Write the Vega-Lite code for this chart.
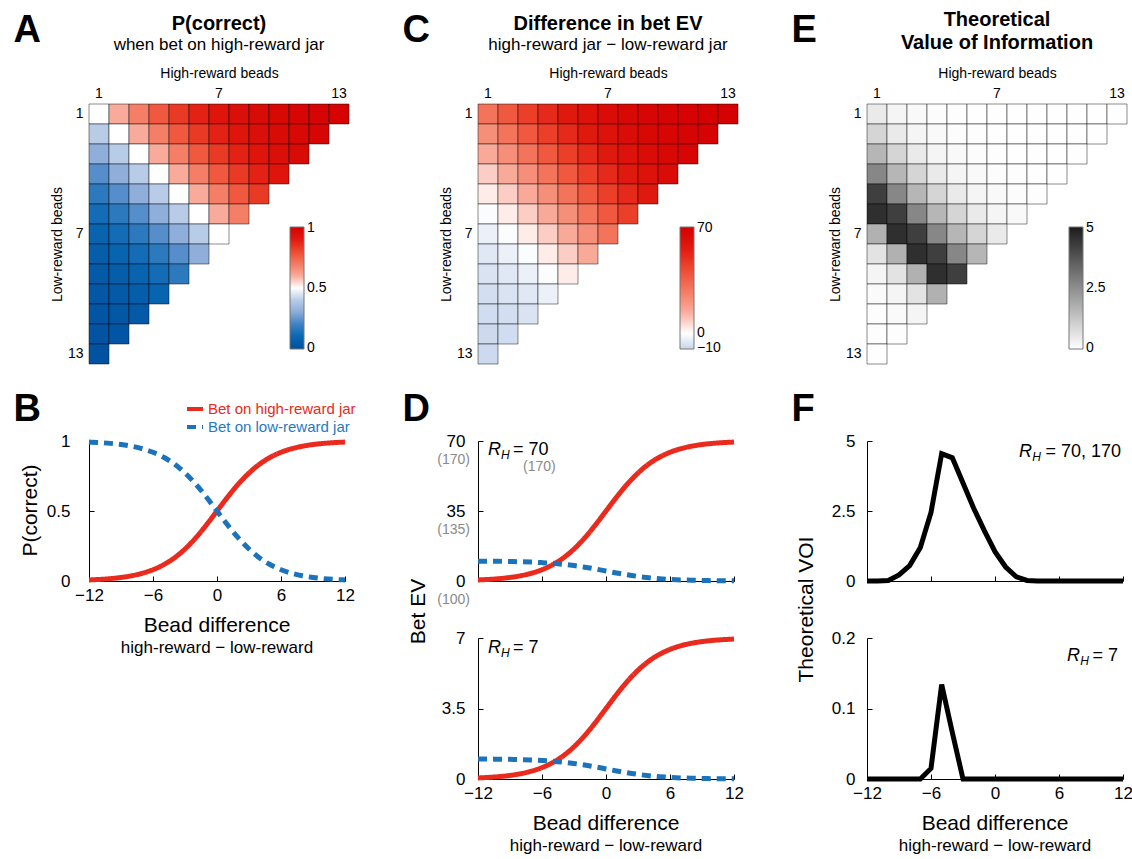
{
"$schema": "https://vega.github.io/schema/vega-lite/v6.json",
"padding": {"left": 13, "top": 10, "right": 0, "bottom": 0},
"config": {
  "font": "Liberation Sans",
  "view": {"stroke": null},
  "axis": {"labelFont": "Liberation Sans", "titleFont": "Liberation Sans", "titleFontWeight": "normal", "labelColor": "#000", "titleColor": "#000", "domainColor": "#000", "tickColor": "#000", "grid": false},
  "legend": {"labelFont": "Liberation Sans", "labelColor": "#000"},
  "title": {"font": "Liberation Sans", "subtitleFont": "Liberation Sans", "color": "#000", "subtitleColor": "#000"},
  "text": {"font": "Liberation Sans"}
},
"datasets": {
  "cells": [
    {"h":1,"l":1,"p":0.5,"e":30,"v":0.45},{"h":2,"l":1,"p":0.6,"e":38,"v":0.2},{"h":3,"l":1,"p":0.6923,"e":45.38,"v":0.1},{"h":4,"l":1,"p":0.7714,"e":51.71,"v":0.05},{"h":5,"l":1,"p":0.8351,"e":56.81,"v":0.02},{"h":6,"l":1,"p":0.8836,"e":60.69,"v":0},{"h":7,"l":1,"p":0.9193,"e":63.54,"v":0},{"h":8,"l":1,"p":0.9447,"e":65.58,"v":0},{"h":9,"l":1,"p":0.9624,"e":66.99,"v":0},{"h":10,"l":1,"p":0.9747,"e":67.98,"v":0},{"h":11,"l":1,"p":0.983,"e":68.64,"v":0},{"h":12,"l":1,"p":0.9886,"e":69.09,"v":0},{"h":13,"l":1,"p":0.9924,"e":69.39,"v":0},
    {"h":1,"l":2,"p":0.4,"e":22,"v":0.9},{"h":2,"l":2,"p":0.5,"e":30,"v":0.45},{"h":3,"l":2,"p":0.6,"e":38,"v":0.2},{"h":4,"l":2,"p":0.6923,"e":45.38,"v":0.1},{"h":5,"l":2,"p":0.7714,"e":51.71,"v":0.05},{"h":6,"l":2,"p":0.8351,"e":56.81,"v":0.02},{"h":7,"l":2,"p":0.8836,"e":60.69,"v":0},{"h":8,"l":2,"p":0.9193,"e":63.54,"v":0},{"h":9,"l":2,"p":0.9447,"e":65.58,"v":0},{"h":10,"l":2,"p":0.9624,"e":66.99,"v":0},{"h":11,"l":2,"p":0.9747,"e":67.98,"v":0},{"h":12,"l":2,"p":0.983,"e":68.64,"v":0},
    {"h":1,"l":3,"p":0.3077,"e":14.62,"v":1.6},{"h":2,"l":3,"p":0.4,"e":22,"v":0.9},{"h":3,"l":3,"p":0.5,"e":30,"v":0.45},{"h":4,"l":3,"p":0.6,"e":38,"v":0.2},{"h":5,"l":3,"p":0.6923,"e":45.38,"v":0.1},{"h":6,"l":3,"p":0.7714,"e":51.71,"v":0.05},{"h":7,"l":3,"p":0.8351,"e":56.81,"v":0.02},{"h":8,"l":3,"p":0.8836,"e":60.69,"v":0},{"h":9,"l":3,"p":0.9193,"e":63.54,"v":0},{"h":10,"l":3,"p":0.9447,"e":65.58,"v":0},{"h":11,"l":3,"p":0.9624,"e":66.99,"v":0},
    {"h":1,"l":4,"p":0.2286,"e":8.29,"v":2.65},{"h":2,"l":4,"p":0.3077,"e":14.62,"v":1.6},{"h":3,"l":4,"p":0.4,"e":22,"v":0.9},{"h":4,"l":4,"p":0.5,"e":30,"v":0.45},{"h":5,"l":4,"p":0.6,"e":38,"v":0.2},{"h":6,"l":4,"p":0.6923,"e":45.38,"v":0.1},{"h":7,"l":4,"p":0.7714,"e":51.71,"v":0.05},{"h":8,"l":4,"p":0.8351,"e":56.81,"v":0.02},{"h":9,"l":4,"p":0.8836,"e":60.69,"v":0},{"h":10,"l":4,"p":0.9193,"e":63.54,"v":0},
    {"h":1,"l":5,"p":0.1649,"e":3.19,"v":4.25},{"h":2,"l":5,"p":0.2286,"e":8.29,"v":2.65},{"h":3,"l":5,"p":0.3077,"e":14.62,"v":1.6},{"h":4,"l":5,"p":0.4,"e":22,"v":0.9},{"h":5,"l":5,"p":0.5,"e":30,"v":0.45},{"h":6,"l":5,"p":0.6,"e":38,"v":0.2},{"h":7,"l":5,"p":0.6923,"e":45.38,"v":0.1},{"h":8,"l":5,"p":0.7714,"e":51.71,"v":0.05},{"h":9,"l":5,"p":0.8351,"e":56.81,"v":0.02},
    {"h":1,"l":6,"p":0.1164,"e":-0.69,"v":4.6},{"h":2,"l":6,"p":0.1649,"e":3.19,"v":4.25},{"h":3,"l":6,"p":0.2286,"e":8.29,"v":2.65},{"h":4,"l":6,"p":0.3077,"e":14.62,"v":1.6},{"h":5,"l":6,"p":0.4,"e":22,"v":0.9},{"h":6,"l":6,"p":0.5,"e":30,"v":0.45},{"h":7,"l":6,"p":0.6,"e":38,"v":0.2},{"h":8,"l":6,"p":0.6923,"e":45.38,"v":0.1},
    {"h":1,"l":7,"p":0.0807,"e":-3.54,"v":1.7},{"h":2,"l":7,"p":0.1164,"e":-0.69,"v":4.6},{"h":3,"l":7,"p":0.1649,"e":3.19,"v":4.25},{"h":4,"l":7,"p":0.2286,"e":8.29,"v":2.65},{"h":5,"l":7,"p":0.3077,"e":14.62,"v":1.6},{"h":6,"l":7,"p":0.4,"e":22,"v":0.9},{"h":7,"l":7,"p":0.5,"e":30,"v":0.45},
    {"h":1,"l":8,"p":0.0553,"e":-5.58,"v":0.6},{"h":2,"l":8,"p":0.0807,"e":-3.54,"v":1.7},{"h":3,"l":8,"p":0.1164,"e":-0.69,"v":4.6},{"h":4,"l":8,"p":0.1649,"e":3.19,"v":4.25},{"h":5,"l":8,"p":0.2286,"e":8.29,"v":2.65},{"h":6,"l":8,"p":0.3077,"e":14.62,"v":1.6},
    {"h":1,"l":9,"p":0.0376,"e":-6.99,"v":0.2},{"h":2,"l":9,"p":0.0553,"e":-5.58,"v":0.6},{"h":3,"l":9,"p":0.0807,"e":-3.54,"v":1.7},{"h":4,"l":9,"p":0.1164,"e":-0.69,"v":4.6},{"h":5,"l":9,"p":0.1649,"e":3.19,"v":4.25},
    {"h":1,"l":10,"p":0.0253,"e":-7.98,"v":0.08},{"h":2,"l":10,"p":0.0376,"e":-6.99,"v":0.2},{"h":3,"l":10,"p":0.0553,"e":-5.58,"v":0.6},{"h":4,"l":10,"p":0.0807,"e":-3.54,"v":1.7},
    {"h":1,"l":11,"p":0.017,"e":-8.64,"v":0.03},{"h":2,"l":11,"p":0.0253,"e":-7.98,"v":0.08},{"h":3,"l":11,"p":0.0376,"e":-6.99,"v":0.2},
    {"h":1,"l":12,"p":0.0114,"e":-9.09,"v":0.01},{"h":2,"l":12,"p":0.017,"e":-8.64,"v":0.03},
    {"h":1,"l":13,"p":0.0076,"e":-9.39,"v":0}
  ],
  "pc": [
    {"d":-12,"s":"Bet on high-reward jar","v":0.0076},{"d":-11,"s":"Bet on high-reward jar","v":0.0114},{"d":-10,"s":"Bet on high-reward jar","v":0.017},{"d":-9,"s":"Bet on high-reward jar","v":0.0253},{"d":-8,"s":"Bet on high-reward jar","v":0.0376},{"d":-7,"s":"Bet on high-reward jar","v":0.0553},{"d":-6,"s":"Bet on high-reward jar","v":0.0807},{"d":-5,"s":"Bet on high-reward jar","v":0.1164},{"d":-4,"s":"Bet on high-reward jar","v":0.1649},{"d":-3,"s":"Bet on high-reward jar","v":0.2286},{"d":-2,"s":"Bet on high-reward jar","v":0.3077},{"d":-1,"s":"Bet on high-reward jar","v":0.4},{"d":0,"s":"Bet on high-reward jar","v":0.5},{"d":1,"s":"Bet on high-reward jar","v":0.6},{"d":2,"s":"Bet on high-reward jar","v":0.6923},{"d":3,"s":"Bet on high-reward jar","v":0.7714},{"d":4,"s":"Bet on high-reward jar","v":0.8351},{"d":5,"s":"Bet on high-reward jar","v":0.8836},{"d":6,"s":"Bet on high-reward jar","v":0.9193},{"d":7,"s":"Bet on high-reward jar","v":0.9447},{"d":8,"s":"Bet on high-reward jar","v":0.9624},{"d":9,"s":"Bet on high-reward jar","v":0.9747},{"d":10,"s":"Bet on high-reward jar","v":0.983},{"d":11,"s":"Bet on high-reward jar","v":0.9886},{"d":12,"s":"Bet on high-reward jar","v":0.9924},
    {"d":-12,"s":"Bet on low-reward jar","v":0.9924},{"d":-11,"s":"Bet on low-reward jar","v":0.9886},{"d":-10,"s":"Bet on low-reward jar","v":0.983},{"d":-9,"s":"Bet on low-reward jar","v":0.9747},{"d":-8,"s":"Bet on low-reward jar","v":0.9624},{"d":-7,"s":"Bet on low-reward jar","v":0.9447},{"d":-6,"s":"Bet on low-reward jar","v":0.9193},{"d":-5,"s":"Bet on low-reward jar","v":0.8836},{"d":-4,"s":"Bet on low-reward jar","v":0.8351},{"d":-3,"s":"Bet on low-reward jar","v":0.7714},{"d":-2,"s":"Bet on low-reward jar","v":0.6923},{"d":-1,"s":"Bet on low-reward jar","v":0.6},{"d":0,"s":"Bet on low-reward jar","v":0.5},{"d":1,"s":"Bet on low-reward jar","v":0.4},{"d":2,"s":"Bet on low-reward jar","v":0.3077},{"d":3,"s":"Bet on low-reward jar","v":0.2286},{"d":4,"s":"Bet on low-reward jar","v":0.1649},{"d":5,"s":"Bet on low-reward jar","v":0.1164},{"d":6,"s":"Bet on low-reward jar","v":0.0807},{"d":7,"s":"Bet on low-reward jar","v":0.0553},{"d":8,"s":"Bet on low-reward jar","v":0.0376},{"d":9,"s":"Bet on low-reward jar","v":0.0253},{"d":10,"s":"Bet on low-reward jar","v":0.017},{"d":11,"s":"Bet on low-reward jar","v":0.0114},{"d":12,"s":"Bet on low-reward jar","v":0.0076}
  ],
  "ev70": [
    {"d":-12,"s":"hi","v":0.53},{"d":-11,"s":"hi","v":0.8},{"d":-10,"s":"hi","v":1.19},{"d":-9,"s":"hi","v":1.77},{"d":-8,"s":"hi","v":2.63},{"d":-7,"s":"hi","v":3.87},{"d":-6,"s":"hi","v":5.65},{"d":-5,"s":"hi","v":8.15},{"d":-4,"s":"hi","v":11.54},{"d":-3,"s":"hi","v":16.0},{"d":-2,"s":"hi","v":21.54},{"d":-1,"s":"hi","v":28.0},{"d":0,"s":"hi","v":35.0},{"d":1,"s":"hi","v":42.0},{"d":2,"s":"hi","v":48.46},{"d":3,"s":"hi","v":54.0},{"d":4,"s":"hi","v":58.46},{"d":5,"s":"hi","v":61.85},{"d":6,"s":"hi","v":64.35},{"d":7,"s":"hi","v":66.13},{"d":8,"s":"hi","v":67.37},{"d":9,"s":"hi","v":68.23},{"d":10,"s":"hi","v":68.81},{"d":11,"s":"hi","v":69.2},{"d":12,"s":"hi","v":69.47},
    {"d":-12,"s":"lo","v":9.92},{"d":-11,"s":"lo","v":9.89},{"d":-10,"s":"lo","v":9.83},{"d":-9,"s":"lo","v":9.75},{"d":-8,"s":"lo","v":9.62},{"d":-7,"s":"lo","v":9.45},{"d":-6,"s":"lo","v":9.19},{"d":-5,"s":"lo","v":8.84},{"d":-4,"s":"lo","v":8.35},{"d":-3,"s":"lo","v":7.71},{"d":-2,"s":"lo","v":6.92},{"d":-1,"s":"lo","v":6.0},{"d":0,"s":"lo","v":5.0},{"d":1,"s":"lo","v":4.0},{"d":2,"s":"lo","v":3.08},{"d":3,"s":"lo","v":2.29},{"d":4,"s":"lo","v":1.65},{"d":5,"s":"lo","v":1.16},{"d":6,"s":"lo","v":0.81},{"d":7,"s":"lo","v":0.55},{"d":8,"s":"lo","v":0.38},{"d":9,"s":"lo","v":0.25},{"d":10,"s":"lo","v":0.17},{"d":11,"s":"lo","v":0.11},{"d":12,"s":"lo","v":0.08}
  ],
  "ev7": [
    {"d":-12,"s":"hi","v":0.053},{"d":-11,"s":"hi","v":0.08},{"d":-10,"s":"hi","v":0.119},{"d":-9,"s":"hi","v":0.177},{"d":-8,"s":"hi","v":0.263},{"d":-7,"s":"hi","v":0.387},{"d":-6,"s":"hi","v":0.565},{"d":-5,"s":"hi","v":0.815},{"d":-4,"s":"hi","v":1.154},{"d":-3,"s":"hi","v":1.6},{"d":-2,"s":"hi","v":2.154},{"d":-1,"s":"hi","v":2.8},{"d":0,"s":"hi","v":3.5},{"d":1,"s":"hi","v":4.2},{"d":2,"s":"hi","v":4.846},{"d":3,"s":"hi","v":5.4},{"d":4,"s":"hi","v":5.846},{"d":5,"s":"hi","v":6.185},{"d":6,"s":"hi","v":6.435},{"d":7,"s":"hi","v":6.613},{"d":8,"s":"hi","v":6.737},{"d":9,"s":"hi","v":6.823},{"d":10,"s":"hi","v":6.881},{"d":11,"s":"hi","v":6.92},{"d":12,"s":"hi","v":6.947},
    {"d":-12,"s":"lo","v":0.992},{"d":-11,"s":"lo","v":0.989},{"d":-10,"s":"lo","v":0.983},{"d":-9,"s":"lo","v":0.975},{"d":-8,"s":"lo","v":0.962},{"d":-7,"s":"lo","v":0.945},{"d":-6,"s":"lo","v":0.919},{"d":-5,"s":"lo","v":0.884},{"d":-4,"s":"lo","v":0.835},{"d":-3,"s":"lo","v":0.771},{"d":-2,"s":"lo","v":0.692},{"d":-1,"s":"lo","v":0.6},{"d":0,"s":"lo","v":0.5},{"d":1,"s":"lo","v":0.4},{"d":2,"s":"lo","v":0.308},{"d":3,"s":"lo","v":0.229},{"d":4,"s":"lo","v":0.165},{"d":5,"s":"lo","v":0.116},{"d":6,"s":"lo","v":0.081},{"d":7,"s":"lo","v":0.055},{"d":8,"s":"lo","v":0.038},{"d":9,"s":"lo","v":0.025},{"d":10,"s":"lo","v":0.017},{"d":11,"s":"lo","v":0.011},{"d":12,"s":"lo","v":0.008}
  ],
  "voi70": [
    {"d":-12,"v":0},{"d":-11,"v":0},{"d":-10,"v":0.02},{"d":-9,"v":0.22},{"d":-8,"v":0.55},{"d":-7,"v":1.2},{"d":-6,"v":2.45},{"d":-5,"v":4.55},{"d":-4,"v":4.4},{"d":-3,"v":3.5},{"d":-2,"v":2.6},{"d":-1,"v":1.8},{"d":0,"v":1.05},{"d":1,"v":0.5},{"d":2,"v":0.15},{"d":3,"v":0.02},{"d":4,"v":0},{"d":5,"v":0},{"d":6,"v":0},{"d":7,"v":0},{"d":8,"v":0},{"d":9,"v":0},{"d":10,"v":0},{"d":11,"v":0},{"d":12,"v":0}
  ],
  "voi7": [
    {"d":-12,"v":0},{"d":-11,"v":0},{"d":-10,"v":0},{"d":-9,"v":0},{"d":-8,"v":0},{"d":-7,"v":0},{"d":-6,"v":0.015},{"d":-5,"v":0.134},{"d":-4,"v":0.066},{"d":-3,"v":0},{"d":-2,"v":0},{"d":-1,"v":0},{"d":0,"v":0},{"d":1,"v":0},{"d":2,"v":0},{"d":3,"v":0},{"d":4,"v":0},{"d":5,"v":0},{"d":6,"v":0},{"d":7,"v":0},{"d":8,"v":0},{"d":9,"v":0},{"d":10,"v":0},{"d":11,"v":0},{"d":12,"v":0}
  ]
},
"columns": 3,
"bounds": "flush",
"align": "each",
"spacing": {"row": 57, "column": 129},
"resolve": {"scale": {"color": "independent", "strokeDash": "independent"}, "legend": {"color": "independent", "strokeDash": "independent"}},
"concat": [
  {
    "width": 260, "height": 280,
    "title": {"text": "P(correct)", "subtitle": "when bet on high-reward jar", "fontSize": 20, "fontWeight": "bold", "subtitleFontSize": 17, "subtitlePadding": 3, "offset": -42, "anchor": "middle", "frame": "group"},
    "data": {"name": "cells"},
    "layer": [
      {"mark": {"type": "rect", "stroke": "#000", "strokeOpacity": 0.45, "strokeWidth": 1},
       "encoding": {
         "x": {"field": "h", "type": "ordinal", "scale": {"domain": [1,2,3,4,5,6,7,8,9,10,11,12,13], "paddingInner": 0, "paddingOuter": 0}, "axis": {"orient": "top", "values": [1,7,13], "labelAngle": 0, "ticks": false, "domain": false, "labelPadding": 4, "labelFontSize": 14, "title": "High-reward beads", "titleFontSize": 14, "titlePadding": 6}},
         "y": {"field": "l", "type": "ordinal", "scale": {"domain": [1,2,3,4,5,6,7,8,9,10,11,12,13,14], "paddingInner": 0, "paddingOuter": 0}, "axis": {"orient": "left", "values": [1,7,13], "ticks": false, "domain": false, "labelPadding": 6, "labelFontSize": 14, "title": "Low-reward beads", "titleFontSize": 14, "titlePadding": 3}},
         "color": {"field": "p", "type": "quantitative",
           "scale": {"domain": [-0.005,0.1,0.2,0.3,0.4,0.5,0.6,0.7,0.8,0.9,1.005], "range": ["#0050a0","#0a68b2","#3f82c4","#8cabd8","#b8cce8","#ffffff","#f9ab9b","#f47a62","#ee4b33","#e11a0f","#d40000"], "interpolate": "rgb"},
           "legend": {"orient": "none", "legendX": 201, "legendY": 123, "direction": "vertical", "title": null, "values": [0,0.5,1], "format": ".1~f", "gradientLength": 122, "gradientThickness": 14, "gradientStrokeColor": "#777", "gradientStrokeWidth": 1, "labelFontSize": 14, "labelOverlap": false, "labelOffset": 3, "labelBaseline": "middle"}}
       }},
      {"mark": {"type": "text", "text": ""},
       "encoding": {"y": {"field": "l", "type": "ordinal", "scale": {"domain": [1,2,3,4,5,6,7,8,9,10,11,12,13,14]}, "axis": {"orient": "right", "labels": false, "ticks": false, "domain": false, "title": "A", "titleAngle": 0, "titleX": -336, "titleY": -63, "titleAlign": "left", "titleBaseline": "alphabetic", "titleFontSize": 38, "titleFontWeight": "bold"}}}}
    ],
    "resolve": {"axis": {"y": "independent"}}
  },
  {
    "width": 260, "height": 280,
    "title": {"text": "Difference in bet EV", "subtitle": "high-reward jar − low-reward jar", "fontSize": 20, "fontWeight": "bold", "subtitleFontSize": 17, "subtitlePadding": 3, "offset": -42, "anchor": "middle", "frame": "group"},
    "data": {"name": "cells"},
    "layer": [
      {"mark": {"type": "rect", "stroke": "#000", "strokeOpacity": 0.45, "strokeWidth": 1},
       "encoding": {
         "x": {"field": "h", "type": "ordinal", "scale": {"domain": [1,2,3,4,5,6,7,8,9,10,11,12,13], "paddingInner": 0, "paddingOuter": 0}, "axis": {"orient": "top", "values": [1,7,13], "labelAngle": 0, "ticks": false, "domain": false, "labelPadding": 4, "labelFontSize": 14, "title": "High-reward beads", "titleFontSize": 14, "titlePadding": 6}},
         "y": {"field": "l", "type": "ordinal", "scale": {"domain": [1,2,3,4,5,6,7,8,9,10,11,12,13,14], "paddingInner": 0, "paddingOuter": 0}, "axis": {"orient": "left", "values": [1,7,13], "ticks": false, "domain": false, "labelPadding": 6, "labelFontSize": 14, "title": "Low-reward beads", "titleFontSize": 14, "titlePadding": 3}},
         "color": {"field": "e", "type": "quantitative",
           "scale": {"domain": [-10.4,0,14,28,42,56,70.4], "range": ["#c6d5ec","#ffffff","#f9ab9b","#f47a62","#ee4b33","#e11a0f","#d40000"], "interpolate": "rgb"},
           "legend": {"orient": "none", "legendX": 202, "legendY": 123, "direction": "vertical", "title": null, "values": [-10,0,70], "format": ".1~f", "gradientLength": 122, "gradientThickness": 14, "gradientStrokeColor": "#777", "gradientStrokeWidth": 1, "labelFontSize": 14, "labelOverlap": false, "labelOffset": 3, "labelBaseline": "middle"}}
       }},
      {"mark": {"type": "text", "text": ""},
       "encoding": {"y": {"field": "l", "type": "ordinal", "scale": {"domain": [1,2,3,4,5,6,7,8,9,10,11,12,13,14]}, "axis": {"orient": "right", "labels": false, "ticks": false, "domain": false, "title": "C", "titleAngle": 0, "titleX": -336, "titleY": -63, "titleAlign": "left", "titleBaseline": "alphabetic", "titleFontSize": 38, "titleFontWeight": "bold"}}}}
    ],
    "resolve": {"axis": {"y": "independent"}}
  },
  {
    "width": 260, "height": 280,
    "title": {"text": ["Theoretical", "Value of Information"], "lineHeight": 23, "fontSize": 20, "fontWeight": "bold", "offset": -42, "anchor": "middle", "frame": "group"},
    "data": {"name": "cells"},
    "layer": [
      {"mark": {"type": "rect", "stroke": "#000", "strokeOpacity": 0.45, "strokeWidth": 1},
       "encoding": {
         "x": {"field": "h", "type": "ordinal", "scale": {"domain": [1,2,3,4,5,6,7,8,9,10,11,12,13], "paddingInner": 0, "paddingOuter": 0}, "axis": {"orient": "top", "values": [1,7,13], "labelAngle": 0, "ticks": false, "domain": false, "labelPadding": 4, "labelFontSize": 14, "title": "High-reward beads", "titleFontSize": 14, "titlePadding": 6}},
         "y": {"field": "l", "type": "ordinal", "scale": {"domain": [1,2,3,4,5,6,7,8,9,10,11,12,13,14], "paddingInner": 0, "paddingOuter": 0}, "axis": {"orient": "left", "values": [1,7,13], "ticks": false, "domain": false, "labelPadding": 6, "labelFontSize": 14, "title": "Low-reward beads", "titleFontSize": 14, "titlePadding": 3}},
         "color": {"field": "v", "type": "quantitative",
           "scale": {"domain": [-0.025,5.025], "range": ["#ffffff","#1c1c1c"], "interpolate": "rgb"},
           "legend": {"orient": "none", "legendX": 202, "legendY": 123, "direction": "vertical", "title": null, "values": [0,2.5,5], "format": ".1~f", "gradientLength": 122, "gradientThickness": 14, "gradientStrokeColor": "#777", "gradientStrokeWidth": 1, "labelFontSize": 14, "labelOverlap": false, "labelOffset": 3, "labelBaseline": "middle"}}
       }},
      {"mark": {"type": "text", "text": ""},
       "encoding": {"y": {"field": "l", "type": "ordinal", "scale": {"domain": [1,2,3,4,5,6,7,8,9,10,11,12,13,14]}, "axis": {"orient": "right", "labels": false, "ticks": false, "domain": false, "title": "E", "titleAngle": 0, "titleX": -336, "titleY": -63, "titleAlign": "left", "titleBaseline": "alphabetic", "titleFontSize": 38, "titleFontWeight": "bold"}}}}
    ],
    "resolve": {"axis": {"y": "independent"}}
  },
  {
    "width": 256, "height": 140,
    "title": {"text": "Bead difference", "subtitle": "high-reward − low-reward", "orient": "bottom", "anchor": "middle", "frame": "group", "fontSize": 21, "fontWeight": "normal", "subtitleFontSize": 17, "subtitlePadding": 4, "offset": 12},
    "layer": [
      {"data": {"name": "pc"},
       "mark": {"type": "line", "strokeWidth": 5, "interpolate": "monotone", "strokeCap": "butt"},
       "encoding": {
         "x": {"field": "d", "type": "quantitative", "scale": {"domain": [-12,12], "nice": false}, "axis": {"values": [-12,-6,0,6,12], "format": ".1~f", "tickSize": -5, "labelPadding": 11, "labelFontSize": 17, "labelFlush": false, "title": null}},
         "y": {"field": "v", "type": "quantitative", "scale": {"domain": [0,1], "nice": false}, "axis": {"values": [0,0.5,1], "format": ".1~f", "tickSize": -5, "labelPadding": 24, "labelFontSize": 17, "labelFlush": false, "title": "P(correct)", "titleFontSize": 21, "titleX": -49, "titleY": 69, "titleAngle": -90, "titleAlign": "center", "titleBaseline": "bottom"}},
         "color": {"field": "s", "type": "nominal", "scale": {"domain": ["Bet on high-reward jar","Bet on low-reward jar"], "range": ["#ea2a1d","#1b74bb"]},
           "legend": {"orient": "none", "legendX": 96, "legendY": -42, "title": null, "symbolType": "stroke", "symbolSize": 256, "symbolStrokeWidth": 4, "labelFontSize": 15, "labelOffset": 3, "rowPadding": 0, "labelColor": {"expr": "datum.value == 'Bet on high-reward jar' ? '#e8291c' : '#1f7ac0'"}}},
         "strokeDash": {"field": "s", "type": "nominal", "scale": {"domain": ["Bet on high-reward jar","Bet on low-reward jar"], "range": [[1,0],[9,6]]},
           "legend": {"orient": "none", "legendX": 96, "legendY": -42, "title": null, "symbolType": "stroke", "symbolSize": 256, "symbolStrokeWidth": 4, "labelFontSize": 15, "labelOffset": 3, "rowPadding": 0, "labelColor": {"expr": "datum.value == 'Bet on high-reward jar' ? '#e8291c' : '#1f7ac0'"}}}
       }},
      {"data": {"values": [{"v": 0}]},
       "mark": {"type": "text", "text": ""},
       "encoding": {"y": {"field": "v", "type": "quantitative", "scale": {"domain": [0,1], "nice": false}, "axis": {"orient": "right", "labels": false, "ticks": false, "domain": false, "title": "B", "titleAngle": 0, "titleX": -332, "titleY": -21, "titleAlign": "left", "titleBaseline": "alphabetic", "titleFontSize": 38, "titleFontWeight": "bold"}}}}
    ],
    "resolve": {"axis": {"y": "independent"}}
  },
  {
    "width": 256, "height": 140,
    "layer": [
      {"data": {"name": "ev70"},
       "mark": {"type": "line", "strokeWidth": 5, "interpolate": "monotone", "strokeCap": "butt"},
       "encoding": {
         "x": {"field": "d", "type": "quantitative", "scale": {"domain": [-12,12], "nice": false}, "axis": {"values": [-12,-6,0,6,12], "labels": false, "tickSize": -5, "title": null}},
         "y": {"field": "v", "type": "quantitative", "scale": {"domain": [0,70], "nice": false}, "axis": {"values": [0,35,70], "format": ".1~f", "tickSize": -5, "labelPadding": 18, "labelFontSize": 17, "labelFlush": false, "title": null}},
         "color": {"field": "s", "type": "nominal", "scale": {"domain": ["hi","lo"], "range": ["#ea2a1d","#1b74bb"]}, "legend": null},
         "strokeDash": {"field": "s", "type": "nominal", "scale": {"domain": ["hi","lo"], "range": [[1,0],[9,6]]}, "legend": null}
       }},
      {"data": {"values": [{"v": 70, "t": "(170)"}, {"v": 35, "t": "(135)"}, {"v": 0, "t": "(100)"}]},
       "mark": {"type": "text", "align": "right", "baseline": "middle", "fontSize": 14, "color": "#8a8a8a", "dx": -8, "dy": 19},
       "encoding": {"x": {"datum": -12, "type": "quantitative", "axis": null}, "y": {"field": "v", "type": "quantitative", "axis": null}, "text": {"field": "t"}}},
      {"data": {"values": [{"t": "R"}]},
       "mark": {"type": "text", "align": "left", "baseline": "alphabetic", "fontSize": 18, "fontStyle": "italic", "dx": 10, "dy": 14},
       "encoding": {"x": {"datum": -12, "type": "quantitative", "axis": null}, "y": {"datum": 70, "type": "quantitative", "axis": null}, "text": {"field": "t"}}},
      {"data": {"values": [{"t": "H"}]},
       "mark": {"type": "text", "align": "left", "baseline": "alphabetic", "fontSize": 12, "fontStyle": "italic", "dx": 23, "dy": 18},
       "encoding": {"x": {"datum": -12, "type": "quantitative", "axis": null}, "y": {"datum": 70, "type": "quantitative", "axis": null}, "text": {"field": "t"}}},
      {"data": {"values": [{"t": "= 70"}]},
       "mark": {"type": "text", "align": "left", "baseline": "alphabetic", "fontSize": 18, "dx": 35, "dy": 14},
       "encoding": {"x": {"datum": -12, "type": "quantitative", "axis": null}, "y": {"datum": 70, "type": "quantitative", "axis": null}, "text": {"field": "t"}}},
      {"data": {"values": [{"t": "(170)"}]},
       "mark": {"type": "text", "align": "left", "baseline": "alphabetic", "fontSize": 14, "color": "#8a8a8a", "dx": 45, "dy": 30},
       "encoding": {"x": {"datum": -12, "type": "quantitative", "axis": null}, "y": {"datum": 70, "type": "quantitative", "axis": null}, "text": {"field": "t"}}},
      {"data": {"values": [{"v": 0}]},
       "mark": {"type": "text", "text": ""},
       "encoding": {"y": {"field": "v", "type": "quantitative", "scale": {"domain": [0,70], "nice": false}, "axis": {"orient": "right", "labels": false, "ticks": false, "domain": false, "title": "D", "titleAngle": 0, "titleX": -332, "titleY": -21, "titleAlign": "left", "titleBaseline": "alphabetic", "titleFontSize": 38, "titleFontWeight": "bold"}}}}
    ],
    "resolve": {"axis": {"x": "independent", "y": "independent"}}
  },
  {
    "width": 256, "height": 140,
    "layer": [
      {"data": {"name": "voi70"},
       "mark": {"type": "line", "strokeWidth": 5, "color": "#000", "strokeJoin": "miter"},
       "encoding": {
         "x": {"field": "d", "type": "quantitative", "scale": {"domain": [-12,12], "nice": false}, "axis": {"values": [-12,-6,0,6,12], "labels": false, "tickSize": -5, "title": null}},
         "y": {"field": "v", "type": "quantitative", "scale": {"domain": [0,5], "nice": false}, "axis": {"values": [0,2.5,5], "format": ".1~f", "tickSize": -5, "labelPadding": 17, "labelFontSize": 17, "labelFlush": false, "title": null}}
       }},
      {"data": {"values": [{"t": "R"}]},
       "mark": {"type": "text", "align": "right", "baseline": "alphabetic", "fontSize": 18, "fontStyle": "italic", "dx": -91, "dy": 16},
       "encoding": {"x": {"datum": 12, "type": "quantitative", "axis": null}, "y": {"datum": 5, "type": "quantitative", "axis": null}, "text": {"field": "t"}}},
      {"data": {"values": [{"t": "H"}]},
       "mark": {"type": "text", "align": "right", "baseline": "alphabetic", "fontSize": 12, "fontStyle": "italic", "dx": -82, "dy": 20},
       "encoding": {"x": {"datum": 12, "type": "quantitative", "axis": null}, "y": {"datum": 5, "type": "quantitative", "axis": null}, "text": {"field": "t"}}},
      {"data": {"values": [{"t": "= 70, 170"}]},
       "mark": {"type": "text", "align": "right", "baseline": "alphabetic", "fontSize": 18, "dx": -2, "dy": 16},
       "encoding": {"x": {"datum": 12, "type": "quantitative", "axis": null}, "y": {"datum": 5, "type": "quantitative", "axis": null}, "text": {"field": "t"}}},
      {"data": {"values": [{"v": 0}]},
       "mark": {"type": "text", "text": ""},
       "encoding": {"y": {"field": "v", "type": "quantitative", "scale": {"domain": [0,5], "nice": false}, "axis": {"orient": "right", "labels": false, "ticks": false, "domain": false, "title": "F", "titleAngle": 0, "titleX": -332, "titleY": -21, "titleAlign": "left", "titleBaseline": "alphabetic", "titleFontSize": 38, "titleFontWeight": "bold"}}}}
    ],
    "resolve": {"axis": {"x": "independent", "y": "independent"}}
  },
  {
    "width": 256, "height": 141,
    "data": {"values": [{"a": 1}]},
    "mark": {"type": "text", "text": ""},
    "encoding": {}
  },
  {
    "width": 256, "height": 141,
    "title": {"text": "Bead difference", "subtitle": "high-reward − low-reward", "orient": "bottom", "anchor": "middle", "frame": "group", "fontSize": 21, "fontWeight": "normal", "subtitleFontSize": 17, "subtitlePadding": 4, "offset": 12},
    "layer": [
      {"data": {"name": "ev7"},
       "mark": {"type": "line", "strokeWidth": 5, "interpolate": "monotone", "strokeCap": "butt"},
       "encoding": {
         "x": {"field": "d", "type": "quantitative", "scale": {"domain": [-12,12], "nice": false}, "axis": {"values": [-12,-6,0,6,12], "format": ".1~f", "tickSize": -5, "labelPadding": 11, "labelFontSize": 17, "labelFlush": false, "title": null}},
         "y": {"field": "v", "type": "quantitative", "scale": {"domain": [0,7], "nice": false}, "axis": {"values": [0,3.5,7], "format": ".1~f", "tickSize": -5, "labelPadding": 18, "labelFontSize": 17, "labelFlush": false, "title": "Bet EV", "titleFontSize": 21, "titleX": -50, "titleY": -27, "titleAngle": -90, "titleAlign": "center", "titleBaseline": "bottom"}},
         "color": {"field": "s", "type": "nominal", "scale": {"domain": ["hi","lo"], "range": ["#ea2a1d","#1b74bb"]}, "legend": null},
         "strokeDash": {"field": "s", "type": "nominal", "scale": {"domain": ["hi","lo"], "range": [[1,0],[9,6]]}, "legend": null}
       }},
      {"data": {"values": [{"t": "R"}]},
       "mark": {"type": "text", "align": "left", "baseline": "alphabetic", "fontSize": 18, "fontStyle": "italic", "dx": 10, "dy": 15},
       "encoding": {"x": {"datum": -12, "type": "quantitative", "axis": null}, "y": {"datum": 7, "type": "quantitative", "axis": null}, "text": {"field": "t"}}},
      {"data": {"values": [{"t": "H"}]},
       "mark": {"type": "text", "align": "left", "baseline": "alphabetic", "fontSize": 12, "fontStyle": "italic", "dx": 23, "dy": 19},
       "encoding": {"x": {"datum": -12, "type": "quantitative", "axis": null}, "y": {"datum": 7, "type": "quantitative", "axis": null}, "text": {"field": "t"}}},
      {"data": {"values": [{"t": "= 7"}]},
       "mark": {"type": "text", "align": "left", "baseline": "alphabetic", "fontSize": 18, "dx": 35, "dy": 15},
       "encoding": {"x": {"datum": -12, "type": "quantitative", "axis": null}, "y": {"datum": 7, "type": "quantitative", "axis": null}, "text": {"field": "t"}}}
    ],
    "resolve": {"axis": {"x": "independent", "y": "independent"}}
  },
  {
    "width": 256, "height": 141,
    "title": {"text": "Bead difference", "subtitle": "high-reward − low-reward", "orient": "bottom", "anchor": "middle", "frame": "group", "fontSize": 21, "fontWeight": "normal", "subtitleFontSize": 17, "subtitlePadding": 4, "offset": 12},
    "layer": [
      {"data": {"name": "voi7"},
       "mark": {"type": "line", "strokeWidth": 5, "color": "#000", "strokeJoin": "miter"},
       "encoding": {
         "x": {"field": "d", "type": "quantitative", "scale": {"domain": [-12,12], "nice": false}, "axis": {"values": [-12,-6,0,6,12], "format": ".1~f", "tickSize": -5, "labelPadding": 11, "labelFontSize": 17, "labelFlush": false, "title": null}},
         "y": {"field": "v", "type": "quantitative", "scale": {"domain": [0,0.2], "nice": false}, "axis": {"values": [0,0.1,0.2], "format": ".1~f", "tickSize": -5, "labelPadding": 17, "labelFontSize": 17, "labelFlush": false, "title": "Theoretical VOI", "titleFontSize": 21, "titleX": -51, "titleY": -29, "titleAngle": -90, "titleAlign": "center", "titleBaseline": "bottom"}}
       }},
      {"data": {"values": [{"t": "R"}]},
       "mark": {"type": "text", "align": "right", "baseline": "alphabetic", "fontSize": 18, "fontStyle": "italic", "dx": -43, "dy": 23},
       "encoding": {"x": {"datum": 12, "type": "quantitative", "axis": null}, "y": {"datum": 0.2, "type": "quantitative", "axis": null}, "text": {"field": "t"}}},
      {"data": {"values": [{"t": "H"}]},
       "mark": {"type": "text", "align": "right", "baseline": "alphabetic", "fontSize": 12, "fontStyle": "italic", "dx": -34, "dy": 27},
       "encoding": {"x": {"datum": 12, "type": "quantitative", "axis": null}, "y": {"datum": 0.2, "type": "quantitative", "axis": null}, "text": {"field": "t"}}},
      {"data": {"values": [{"t": "= 7"}]},
       "mark": {"type": "text", "align": "right", "baseline": "alphabetic", "fontSize": 18, "dx": -5, "dy": 23},
       "encoding": {"x": {"datum": 12, "type": "quantitative", "axis": null}, "y": {"datum": 0.2, "type": "quantitative", "axis": null}, "text": {"field": "t"}}}
    ],
    "resolve": {"axis": {"x": "independent", "y": "independent"}}
  }
]
}
